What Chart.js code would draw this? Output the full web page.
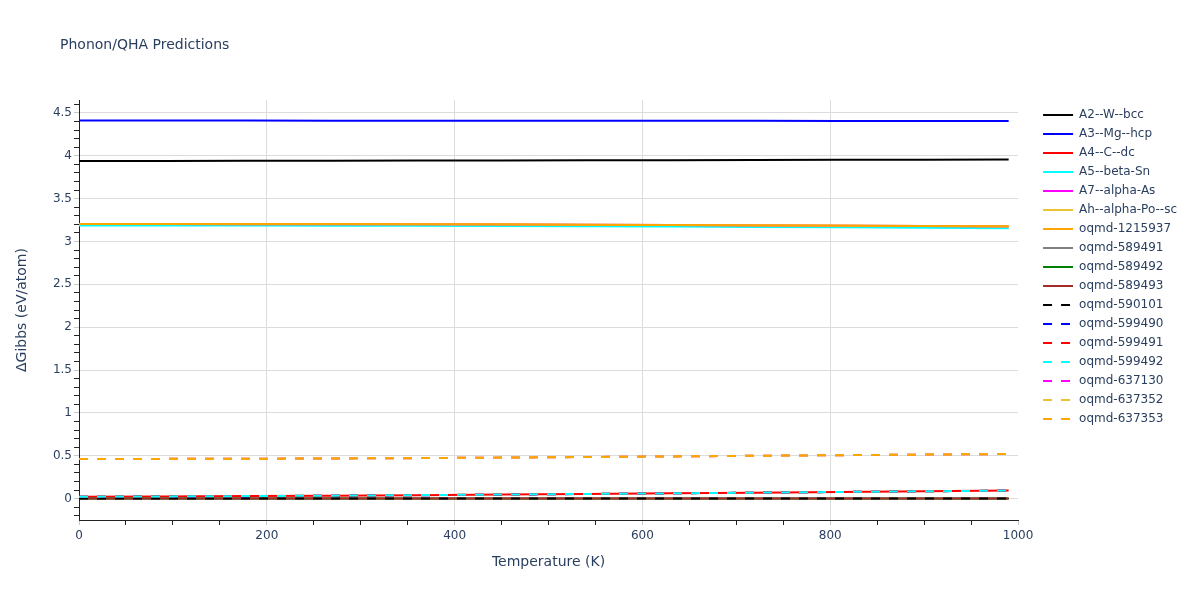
<!DOCTYPE html>
<html><head><meta charset="utf-8">
<script src="https://cdn.jsdelivr.net/npm/chart.js@4.4.1/dist/chart.umd.min.js"></script>
<style>html,body{margin:0;padding:0;background:#fff}#wrap{width:1200px;height:600px}</style>
</head><body><div id="wrap"><canvas id="c" width="1200" height="600"></canvas></div>
<script>
const chartTitle = 'Phonon/QHA Predictions';
const xTitle = 'Temperature (K)';
const yTitle = 'ΔGibbs (eV/atom)';

const temperatures = [0, 90, 180, 270, 360, 450, 540, 630, 720, 810, 900, 990];

const seriesNames = ['A2--W--bcc','A3--Mg--hcp','A4--C--dc','A5--beta-Sn','A7--alpha-As','Ah--alpha-Po--sc',
  'oqmd-1215937','oqmd-589491','oqmd-589492','oqmd-589493','oqmd-590101','oqmd-599490','oqmd-599491',
  'oqmd-599492','oqmd-637130','oqmd-637352','oqmd-637353'];

const gA2W   = [3.937, 3.938, 3.940, 3.942, 3.943, 3.945, 3.947, 3.948, 3.950, 3.952, 3.953, 3.955];
const gA3Mg  = [4.410, 4.410, 4.410, 4.409, 4.409, 4.408, 4.408, 4.407, 4.407, 4.406, 4.406, 4.405];
const gA4C   = [0.022, 0.025, 0.029, 0.034, 0.040, 0.047, 0.054, 0.061, 0.069, 0.077, 0.085, 0.093];
const gA5Sn  = [3.186, 3.186, 3.185, 3.184, 3.182, 3.180, 3.177, 3.173, 3.169, 3.165, 3.160, 3.155];
const gA7As  = [3.202, 3.202, 3.201, 3.200, 3.199, 3.197, 3.194, 3.191, 3.187, 3.183, 3.179, 3.174];
const gAhPo  = [3.202, 3.202, 3.201, 3.200, 3.199, 3.197, 3.194, 3.191, 3.187, 3.183, 3.179, 3.174];
const g1215937 = [3.204, 3.204, 3.203, 3.202, 3.201, 3.199, 3.196, 3.193, 3.189, 3.185, 3.181, 3.176];
const g589491 = [0, 0, 0, 0, 0, 0, 0, 0, 0, 0, 0, 0];
const g589492 = [0, 0, 0, 0, 0, 0, 0, 0, 0, 0, 0, 0];
const g589493 = [0, 0, 0, 0, 0, 0, 0, 0, 0, 0, 0, 0];
const g590101 = [0, 0, 0, 0, 0, 0, 0, 0, 0, 0, 0, 0];
const g599490 = [0.021, 0.024, 0.028, 0.033, 0.039, 0.046, 0.053, 0.061, 0.069, 0.077, 0.085, 0.092];
const g599491 = [0.022, 0.025, 0.029, 0.034, 0.040, 0.047, 0.054, 0.061, 0.069, 0.077, 0.085, 0.093];
const g599492 = [0.022, 0.025, 0.029, 0.034, 0.040, 0.047, 0.054, 0.061, 0.069, 0.077, 0.085, 0.093];
const g637130 = [0.463, 0.463, 0.465, 0.468, 0.472, 0.478, 0.485, 0.492, 0.499, 0.506, 0.513, 0.520];
const g637352 = [0.463, 0.463, 0.465, 0.468, 0.472, 0.478, 0.485, 0.492, 0.499, 0.506, 0.513, 0.520];
const g637353 = [0.463, 0.463, 0.465, 0.468, 0.472, 0.478, 0.485, 0.492, 0.499, 0.506, 0.513, 0.520];

const seriesValues = [gA2W, gA3Mg, gA4C, gA5Sn, gA7As, gAhPo, g1215937, g589491, g589492, g589493,
  g590101, g599490, g599491, g599492, g637130, g637352, g637353];
const seriesColors = ['#000000','#0000ff','#ff0000','#00ffff','#ff00ff','#ebc232','#ffa500','#808080',
  '#008000','#a52a2a','#000000','#0000ff','#ff0000','#00ffff','#ff00ff','#ebc232','#ffa500'];
const seriesDashed = [false,false,false,false,false,false,false,false,false,false,true,true,true,true,true,true,true];

const xTickValues = [];
for (let v = 0; v <= 1000; v += 50) xTickValues.push(v);
const yTickValues = [];
for (let i = -2; i <= 46; i++) yTickValues.push(i / 10);

const isMajorX = v => Math.abs(v % 200) < 1e-6;
const isMajorY = v => Math.abs(v * 2 - Math.round(v * 2)) < 1e-6;

const datasets = seriesNames.map((name, i) => ({
  label: name,
  data: temperatures.map((t, j) => ({x: t, y: seriesValues[i][j]})),
  borderColor: seriesColors[i],
  backgroundColor: seriesColors[i],
  borderWidth: 2,
  borderDash: seriesDashed[i] ? [9, 9] : [],
  pointRadius: 0,
  pointHoverRadius: 0,
  tension: 0,
  fill: false,
  yAxisID: 'y'
})).reverse();

const fontFamily = '"DejaVu Sans", Verdana, sans-serif';
Chart.defaults.font.family = fontFamily;
const textColor = '#2a3f5f';

const titlePlugin = {
  id: 'plotTitle',
  afterDraw(chart) {
    const ctx = chart.ctx;
    ctx.save();
    ctx.font = '14px ' + fontFamily;
    ctx.fillStyle = textColor;
    ctx.textBaseline = 'middle';
    ctx.textAlign = 'left';
    ctx.fillText(chartTitle, 60, 45);
    ctx.restore();
  }
};

new Chart(document.getElementById('c'), {
  type: 'line',
  data: { datasets },
  plugins: [titlePlugin],
  options: {
    responsive: false,
    devicePixelRatio: 1,
    animation: false,
    layout: { padding: { top: 100, right: 13, bottom: 0, left: 0 } },
    plugins: {
      title: { display: false },
      tooltip: { enabled: false },
      legend: {
        position: 'right',
        align: 'start',
        reverse: true,
        title: { display: true, text: '', font: { size: 1, lineHeight: '2px' }, padding: 0 },
        labels: {
          usePointStyle: true,
          pointStyle: 'line',
          pointStyleWidth: 30,
          boxHeight: 12,
          padding: 7,
          color: textColor,
          font: { size: 12, family: fontFamily },
          generateLabels(chart) {
            const items = Chart.defaults.plugins.legend.labels.generateLabels(chart);
            items.forEach(it => {
              const ds = chart.data.datasets[it.datasetIndex];
              it.lineDash = ds.borderDash;
              it.lineWidth = 2;
              it.strokeStyle = ds.borderColor;
              it.fillStyle = ds.borderColor;
            });
            return items;
          }
        }
      }
    },
    scales: {
      x: {
        type: 'linear',
        min: 0, max: 1000,
        afterBuildTicks(s) { s.ticks = xTickValues.map(v => ({value: v})); },
        afterFit(s) { s.height = 80; },
        ticks: {
          autoSkip: false, maxRotation: 0, padding: 4, color: textColor, font: { size: 12 },
          callback: v => isMajorX(v) ? String(v) : ''
        },
        grid: {
          color: c => (isMajorX(c.tick.value) && c.tick.value > 0 && c.tick.value < 1000) ? '#dcdcdc' : 'rgba(0,0,0,0)',
          tickColor: c => isMajorX(c.tick.value) ? '#c8c8c8' : '#222',
          tickLength: 5, drawTicks: true
        },
        border: { display: true, color: '#222', width: 1 },
        title: { display: true, text: xTitle, color: textColor, font: { size: 14 }, padding: { top: 0, bottom: 29 } }
      },
      y: {
        type: 'linear',
        position: 'left',
        min: -0.25, max: 4.65,
        afterBuildTicks(s) { s.ticks = yTickValues.map(v => ({value: v})); },
        afterFit(s) { s.width = 79; },
        ticks: {
          autoSkip: false, padding: 2, color: textColor, font: { size: 12 },
          callback: v => isMajorY(v) ? String(Math.round(v * 10) / 10) : ''
        },
        grid: {
          color: c => isMajorY(c.tick.value) ? '#dcdcdc' : 'rgba(0,0,0,0)',
          tickColor: c => isMajorY(c.tick.value) ? '#c8c8c8' : '#222',
          tickLength: 5, drawTicks: true
        },
        border: { display: true, color: '#222', width: 1 },
        title: { display: true, text: yTitle, color: textColor, font: { size: 14 }, padding: { top: 14, bottom: 0 } }
      },
      gap: {
        type: 'linear',
        position: 'right',
        display: true,
        grid: { display: false, drawTicks: false },
        ticks: { display: false },
        border: { display: false },
        afterFit(s) { s.width = 18; }
      }
    }
  }
});
</script>
</body></html>
